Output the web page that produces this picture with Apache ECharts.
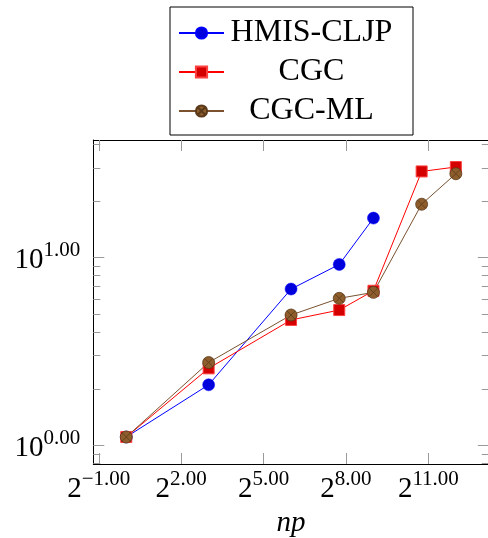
<!DOCTYPE html>
<html>
<head>
<meta charset="utf-8">
<script src="https://cdn.jsdelivr.net/npm/echarts@6/dist/echarts.min.js"></script>
<style>html,body{margin:0;padding:0;background:#fff}#c{width:488px;height:538px}</style>
</head>
<body>
<div id="c"></div>
<script>
// ---- data ----
const np = [1, 8, 64, 216, 512, 1728, 4096];
const hmisCljp = [1.108, 2.10, 6.79, 9.18, 16.2];
const cgc = [1.108, 2.57, 4.65, 5.25, 6.65, 28.7, 30.3];
const cgcMl = [1.108, 2.76, 4.94, 6.06, 6.52, 19.2, 27.9];
const xTicks = [0.5, 4, 32, 256, 2048];
const yTicks = [1, 10];
const yMinorTicks = [0.8, 0.9, 2, 3, 4, 5, 6, 7, 8, 9, 20, 30, 40];
const seriesNames = ['HMIS-CLJP', 'CGC', 'CGC-ML'];

// log-axis limits enlarged by 10% like pgfplots
const lx = np.map(Math.log2);
const xLo = Math.min(...lx), xHi = Math.max(...lx), xr = xHi - xLo;
const xMin = Math.pow(2, xLo - 0.1 * xr), xMax = Math.pow(2, xHi + 0.1 * xr);
const ly = [].concat(hmisCljp, cgc, cgcMl).map(Math.log10);
const yLo = Math.min(...ly), yHi = Math.max(...ly), yr = yHi - yLo;
const yMin = Math.pow(10, yLo - 0.1 * yr), yMax = Math.pow(10, yHi + 0.1 * yr);

const FONT = '"Liberation Serif", "DejaVu Serif", serif';
const tickGray = '#9a9a9a';
const pairs = (ys) => ys.map((v, i) => [np[i], v]);
const otimes = 'path://M0,10A10,10 0 1 1 20,10A10,10 0 1 1 0,10Z M2.93,2.93L17.07,17.07M17.07,2.93L2.93,17.07';
const richLbl = {
  b: {fontFamily: FONT, fontSize: 29, color: '#000', lineHeight: 35, verticalAlign: 'bottom'},
  s: {fontFamily: FONT, fontSize: 21, color: '#000', lineHeight: 21, verticalAlign: 'top'}
};

function xAxisDef(pos, labels) {
  return {
    type: 'log', logBase: 2, min: xMin, max: xMax, position: pos,
    axisLine: {show: true, onZero: false, lineStyle: {color: '#000', width: 1}},
    axisTick: {show: true, inside: true, length: 11, customValues: xTicks, lineStyle: {color: tickGray, width: 1}},
    axisLabel: labels ? {
      show: true, customValues: xTicks, margin: 5, fontFamily: FONT,
      formatter: (v) => '{b|2}{s|' + Math.log2(v).toFixed(2).replace('-', '\u2212') + '}',
      rich: richLbl
    } : {show: false},
    splitLine: {show: false}, minorTick: {show: false}, minorSplitLine: {show: false},
    name: labels ? 'np' : '', nameLocation: 'middle', nameGap: 43,
    nameTextStyle: {fontFamily: FONT, fontStyle: 'italic', fontSize: 29, color: '#000'}
  };
}
function yAxisDef(pos, labels, minor) {
  return {
    type: 'log', logBase: 10, min: yMin, max: yMax, position: pos,
    axisLine: {show: !minor, onZero: false, lineStyle: {color: '#000', width: 1}},
    axisTick: {show: true, inside: true, length: minor ? 7 : 11, customValues: minor ? yMinorTicks : yTicks, lineStyle: {color: tickGray, width: 1}},
    axisLabel: labels ? {
      show: true, customValues: yTicks, margin: 13, fontFamily: FONT,
      formatter: (v) => '{b|10}{s|' + Math.log10(v).toFixed(2) + '}',
      rich: richLbl
    } : {show: false},
    splitLine: {show: false}, minorTick: {show: false}, minorSplitLine: {show: false}
  };
}

const chart = echarts.init(document.getElementById('c'), null, {renderer: 'canvas'});
chart.setOption({
  animation: false,
  backgroundColor: '#fff',
  grid: {left: 93.3, top: 140, width: 395.5, height: 324, containLabel: false, outerBoundsMode: 'none'},
  legend: {
    left: 170, top: 7, orient: 'vertical',
    data: seriesNames,
    padding: [10, 19, 8, 8], itemGap: 7, itemWidth: 45, itemHeight: 14,
    borderColor: '#000', borderWidth: 1, backgroundColor: '#fff',
    formatter: (n) => '{a|' + n + '}',
    textStyle: {
      fontFamily: FONT, fontSize: 32, color: '#000',
      rich: {a: {fontFamily: FONT, fontSize: 32, color: '#000', width: 165, align: 'center', lineHeight: 30}}
    }
  },
  xAxis: [xAxisDef('bottom', true), xAxisDef('top', false)],
  yAxis: [yAxisDef('left', true, false), yAxisDef('right', false, false), yAxisDef('left', false, true), yAxisDef('right', false, true)],
  series: [
    {
      name: seriesNames[0], type: 'line', data: pairs(hmisCljp), xAxisIndex: 0, yAxisIndex: 0,
      symbol: 'circle', symbolSize: 12,
      lineStyle: {color: '#0000ff', width: 1}, itemStyle: {color: '#0000dd', borderColor: '#0000ff', borderWidth: 0.5}
    },
    {
      name: seriesNames[1], type: 'line', data: pairs(cgc), xAxisIndex: 0, yAxisIndex: 0,
      symbol: 'rect', symbolSize: 11,
      lineStyle: {color: '#ff0000', width: 1}, itemStyle: {color: '#d40000', borderColor: '#ff4040', borderWidth: 1}
    },
    {
      name: seriesNames[2], type: 'line', data: pairs(cgcMl), xAxisIndex: 0, yAxisIndex: 0,
      symbol: otimes, symbolSize: 12,
      lineStyle: {color: '#7a5230', width: 1}, itemStyle: {color: '#8e5d2c', borderColor: '#5a3a1a', borderWidth: 0.8}
    }
  ]
});
</script>
</body>
</html>
